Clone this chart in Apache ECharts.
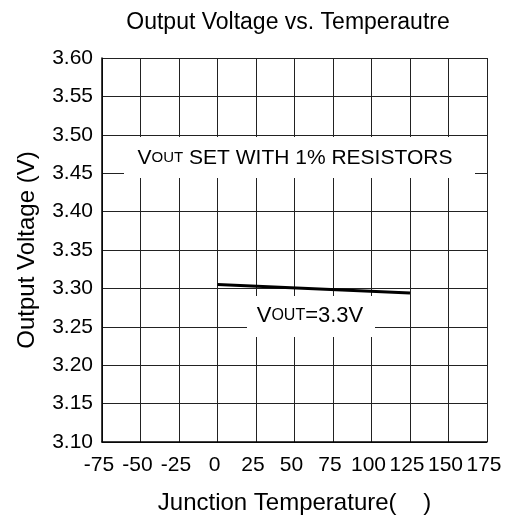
<!DOCTYPE html>
<html>
<head>
<meta charset="utf-8">
<script src="https://cdn.jsdelivr.net/npm/echarts@6/dist/echarts.min.js"></script>
<style>
  html, body { margin: 0; padding: 0; background: #fff; }
  #chart { width: 507px; height: 522px; }
</style>
</head>
<body>
<div id="chart"></div>
<script>
// data
var tempC = [0, 125];
var vout = [3.305, 3.294];
var xTicks = [-75, 175, 25];     // min, max, step
var yTicks = [3.10, 3.60, 0.05];

var font = '"Liberation Sans", Arial, sans-serif';
var ink = '#000';

var lineData = tempC.map(function (t, i) { return [t, vout[i]]; });

var chart = echarts.init(document.getElementById('chart'));
chart.setOption({
    animation: false,
    backgroundColor: '#fff',
    textStyle: { fontFamily: font },
    grid: { left: 102, right: 20, top: 58, bottom: 80 },
    xAxis: {
        type: 'value',
        min: xTicks[0], max: xTicks[1], interval: xTicks[2],
        name: 'Junction Temperature(    )',
        nameLocation: 'middle',
        nameGap: 49,
        nameTextStyle: { color: ink, fontSize: 24, fontFamily: font },
        axisLine: { show: true, onZero: false, lineStyle: { color: ink, width: 1.5 } },
        axisTick: { show: false },
        axisLabel: { color: ink, fontSize: 21, fontFamily: font, margin: 13, padding: [0, 6, 0, 0] },
        splitLine: { show: true, lineStyle: { color: '#222', width: 1 } }
    },
    yAxis: {
        type: 'value',
        min: yTicks[0], max: yTicks[1], interval: yTicks[2],
        name: 'Output Voltage (V)',
        nameLocation: 'middle',
        nameGap: 63,
        nameTextStyle: { color: ink, fontSize: 24, fontFamily: font },
        axisLine: { show: true, onZero: false, lineStyle: { color: ink, width: 1.5 } },
        axisTick: { show: false },
        axisLabel: {
            color: ink, fontSize: 21, fontFamily: font, margin: 9,
            formatter: function (v) { return v.toFixed(2); }
        },
        splitLine: { show: true, lineStyle: { color: '#222', width: 1 } }
    },
    series: [{
        type: 'line',
        data: lineData,
        symbol: 'none',
        lineStyle: { color: ink, width: 3 },
        z: 3
    }],
    graphic: [
        {
            type: 'text', z: 100,
            style: {
                x: 288, y: 23, text: 'Output Voltage vs. Temperautre',
                fill: ink, font: '23px ' + font,
                textAlign: 'center', textVerticalAlign: 'middle'
            }
        },
        {
            type: 'rect', z: 100,
            shape: { x: 124, y: 137, width: 351, height: 41 },
            style: { fill: '#fff' }
        },
        {
            type: 'text', z: 101,
            style: {
                x: 295, y: 158,
                text: '{a|V}{b|OUT}{a| SET WITH 1% RESISTORS}',
                textAlign: 'center', textVerticalAlign: 'middle',
                rich: {
                    a: { fontSize: 21, fontFamily: font, fill: ink },
                    b: { fontSize: 15, fontFamily: font, fill: ink }
                }
            }
        },
        {
            type: 'rect', z: 100,
            shape: { x: 247, y: 296, width: 128, height: 41 },
            style: { fill: '#fff' }
        },
        {
            type: 'text', z: 101,
            style: {
                x: 310, y: 316,
                text: '{a|V}{b|OUT}{a|=3.3V}',
                textAlign: 'center', textVerticalAlign: 'middle',
                rich: {
                    a: { fontSize: 22, fontFamily: font, fill: ink },
                    b: { fontSize: 16, fontFamily: font, fill: ink }
                }
            }
        }
    ]
});
</script>
</body>
</html>
